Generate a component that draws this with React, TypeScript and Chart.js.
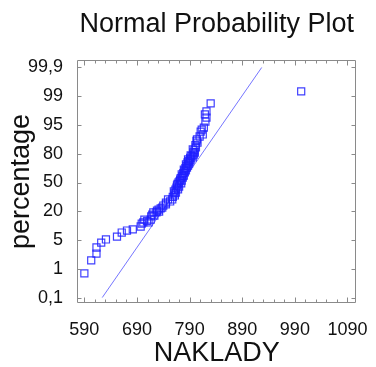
import React, { useEffect, useRef } from "react";
import { Chart, registerables } from "chart.js";

Chart.register(...registerables);

// Tick labels of the probability axis (evenly spaced, as in the reference)
const percentLabels = ["0,1", "1", "5", "20", "50", "80", "95", "99", "99,9"];
const xTickValues = [590, 690, 790, 890, 990, 1090];

// Observations: NAKLADY value and position on the probability axis (tick index units)
const naklady = [
  590, 603, 613, 613, 622, 631, 652, 661, 671, 682, 697, 699, 702, 704, 709, 712, 716,
  717, 719, 721, 723, 727, 728, 731, 732, 735, 738, 740, 745, 745, 749, 753, 757, 758,
  760, 761, 762, 763, 764, 765, 766, 767, 768, 769, 770, 771, 772, 773, 774, 775, 775,
  776, 777, 778, 779, 779, 780, 781, 782, 783, 783, 784, 785, 786, 787, 787, 788, 789,
  790, 791, 792, 792, 794, 796, 796, 797, 798, 799, 800, 801, 802, 803, 804, 805, 809,
  811, 813, 815, 817, 819, 820, 822, 822, 830, 1002,
];
const percentPos = [
  0.84, 1.29, 1.53, 1.74, 1.91, 2.02, 2.12, 2.26, 2.33, 2.37, 2.47, 2.57, 2.61, 2.71, 2.66, 2.61, 2.71,
  2.82, 2.88, 2.96, 2.85, 2.96, 3.02, 3.06, 2.99, 3.1, 3.13, 3.2, 3.24, 3.3, 3.41, 3.34, 3.41, 3.5,
  3.69, 3.62, 3.55, 3.75, 3.65, 3.82, 3.9, 3.95, 3.76, 4.0, 3.86, 4.05, 4.1, 4.15, 3.97, 4.07, 4.28,
  4.22, 4.17, 4.33, 4.24, 4.45, 4.4, 4.35, 4.5, 4.42, 4.63, 4.57, 4.52, 4.7, 4.59, 4.8, 4.75, 4.66,
  4.73, 4.86, 4.8, 4.94, 4.92, 4.87, 5.15, 5.05, 4.97, 5.12, 5.04, 5.3, 5.22, 5.45, 5.5, 5.39, 5.6,
  5.77, 5.84, 5.67, 5.91, 6.37, 6.12, 6.26, 6.47, 6.75, 7.17,
];

// Reference (normal fit) line
const fitX = [624, 927];
const fitY = [0, 8];

const FONT = 'Arial, "Liberation Sans", sans-serif';
const TEXT = "#000000";
const FRAME = "#8a8a8a";

export default function App() {
  const ref = useRef<HTMLCanvasElement>(null);

  useEffect(() => {
    if (!ref.current) return;

    const framePlugin = {
      id: "frameAndTitle",
      afterDraw(chart: any) {
        const ctx = chart.ctx;
        const { left, right, top, bottom } = chart.chartArea;
        const xs = chart.scales.x;
        const ys = chart.scales.y;
        const L = Math.round(left) + 0.5;
        const R = Math.round(right) - 0.5;
        const T = Math.round(top) + 0.5;
        const B = Math.round(bottom) - 0.5;
        ctx.save();
        ctx.strokeStyle = FRAME;
        ctx.lineWidth = 1;
        ctx.beginPath();
        ctx.moveTo(L, T);
        ctx.lineTo(R, T);
        ctx.lineTo(R, B);
        ctx.lineTo(L, B);
        ctx.closePath();
        // x ticks (inward, bottom and top)
        for (let v = 590; v <= 1100; v += 20) {
          const px = Math.round(xs.getPixelForValue(v)) + 0.5;
          if (px < L || px > R) continue;
          const len = (v - 590) % 100 === 0 ? 5 : 3;
          ctx.moveTo(px, B);
          ctx.lineTo(px, B - len);
          ctx.moveTo(px, T);
          ctx.lineTo(px, T + len);
        }
        // y ticks (inward, left and right)
        for (let i = 0; i < percentLabels.length; i++) {
          const py = Math.round(ys.getPixelForValue(i)) + 0.5;
          ctx.moveTo(L, py);
          ctx.lineTo(L + 4, py);
          ctx.moveTo(R, py);
          ctx.lineTo(R - 4, py);
        }
        ctx.stroke();
        // title centred over the plot area
        ctx.fillStyle = "#111";
        ctx.font = `27px ${FONT}`;
        ctx.textAlign = "center";
        ctx.textBaseline = "alphabetic";
        ctx.fillText("Normal Probability Plot", (left + right) / 2, 32);
        ctx.restore();
      },
    };

    const chart = new Chart(ref.current, {
      type: "scatter",
      data: {
        datasets: [
          {
            type: "scatter",
            data: naklady.map((x, i) => ({ x, y: percentPos[i] })),
            pointStyle: "rect",
            pointRadius: 5,
            borderColor: "rgba(30,30,255,0.85)",
            backgroundColor: "rgba(0,0,0,0)",
            borderWidth: 1.2,
          } as any,
          {
            type: "line",
            data: fitX.map((x, i) => ({ x, y: fitY[i] })),
            borderColor: "rgba(110,110,255,0.95)",
            borderWidth: 1,
            pointRadius: 0,
            fill: false,
            showLine: true,
          } as any,
        ],
      },
      options: {
        responsive: false,
        animation: false,
        layout: { padding: { top: 60, right: 15, left: 0, bottom: 0 } },
        plugins: {
          legend: { display: false },
          tooltip: { enabled: false },
          title: { display: false },
        },
        scales: {
          x: {
            type: "linear",
            min: 576,
            max: 1107,
            afterBuildTicks: (s: any) => {
              s.ticks = xTickValues.map((v) => ({ value: v }));
            },
            afterFit: (s: any) => {
              s.height = 64;
            },
            grid: { display: false },
            border: { display: false },
            ticks: {
              color: "#111",
              font: { family: FONT, size: 18 },
              padding: 8,
              maxRotation: 0,
              autoSkip: false,
              callback: (v: any) => String(v),
            },
            title: {
              display: true,
              text: "NAKLADY",
              color: "#111",
              font: { family: FONT, size: 27, lineHeight: 1 },
              padding: { top: 0, bottom: 0 },
            },
          },
          y: {
            type: "linear",
            min: -0.19,
            max: 8.26,
            afterBuildTicks: (s: any) => {
              s.ticks = percentLabels.map((_, i) => ({ value: i }));
            },
            afterFit: (s: any) => {
              s.width = 77;
            },
            grid: { display: false },
            border: { display: false },
            ticks: {
              color: "#111",
              font: { family: FONT, size: 18 },
              padding: 6,
              autoSkip: false,
              callback: (v: any) => percentLabels[Math.round(Number(v))] ?? "",
            },
            title: {
              display: true,
              text: "percentage",
              color: "#111",
              font: { family: FONT, size: 27, lineHeight: 1 },
              padding: { top: 8, bottom: 0 },
            },
          },
        },
      } as any,
      plugins: [framePlugin],
    });

    return () => chart.destroy();
  }, []);

  return (
    <div style={{ position: "absolute", left: 0, top: 0, width: 376, height: 367, background: "#fff" }}>
      <canvas ref={ref} width={376} height={367} style={{ width: 376, height: 367 }} />
    </div>
  );
}
